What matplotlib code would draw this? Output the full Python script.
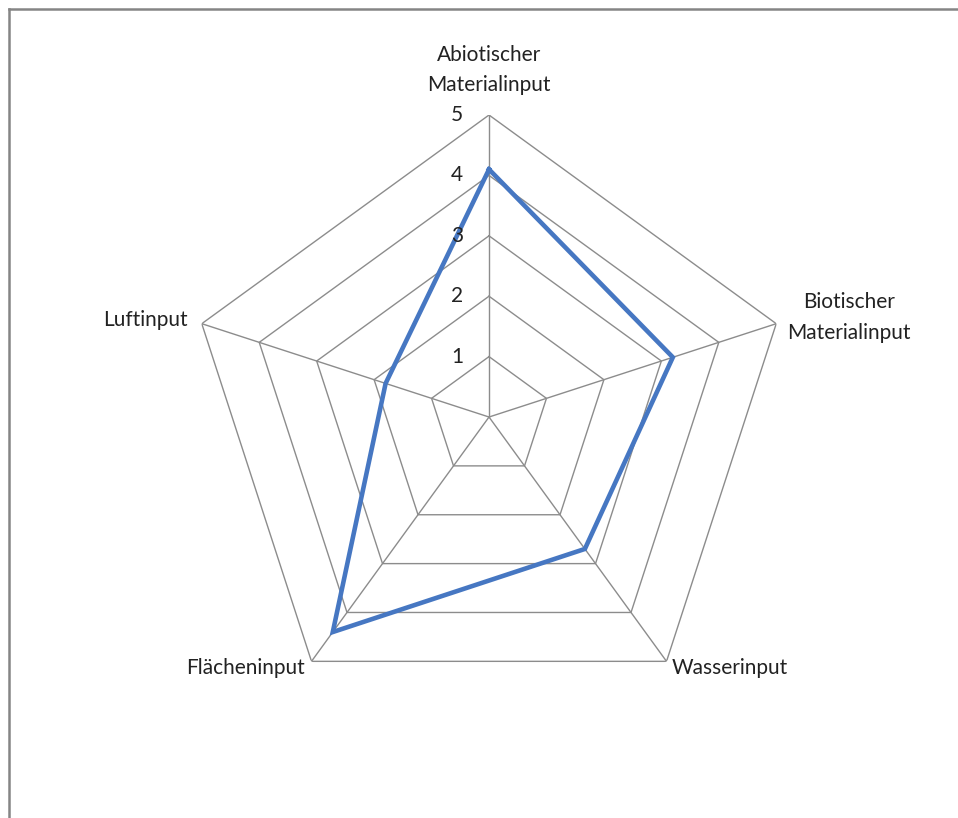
import numpy as np
import matplotlib
matplotlib.use("Agg")
from matplotlib import pyplot as plt
from matplotlib.lines import Line2D

plt.rcParams['font.family'] = ['Lato', 'DejaVu Sans']

# Kategorien und Werte des Netzdiagramms
categories = ['Abiotischer\nMaterialinput', 'Biotischer\nMaterialinput',
              'Wasserinput', 'Flächeninput', 'Luftinput']
values = [4.1, 3.2, 2.7, 4.4, 1.8]
levels = [1, 2, 3, 4, 5]

# Versatz der Beschriftungen (Pixel) und Ausrichtung je Achse
label_offsets = [(0, 20), (11, 6), (5, -7), (-7, -7), (-14, 4)]
label_align = [('center', 'bottom'), ('left', 'center'), ('left', 'center'),
               ('right', 'center'), ('right', 'center')]

grid_color = '#8c8c8c'
line_color = '#4677c2'

fig = plt.figure(figsize=(9.58, 8.18), dpi=100)
ax = fig.add_axes([0.1952, 0.1210, 0.6305, 0.7384], projection='polar')
ax.set_theta_offset(np.pi / 2)
ax.set_theta_direction(-1)
ax.set_ylim(0, 5)
ax.set_xticks([])
ax.set_yticks([])
ax.grid(False)
ax.spines['polar'].set_visible(False)
ax.patch.set_visible(False)

n = len(categories)
angles = np.linspace(0, 2 * np.pi, n, endpoint=False)
closed = np.append(angles, angles[0])

# Fuenfeckiges Gitter und Speichen
for lv in levels:
    ax.plot(closed, [lv] * (n + 1), color=grid_color, lw=1.0, zorder=1)
for a in angles:
    ax.plot([a, a], [0, levels[-1]], color=grid_color, lw=1.0, zorder=1)

# Datenreihe
ax.plot(closed, values + values[:1], color=line_color, lw=3.3, zorder=3,
        solid_joinstyle='miter')

# Achsenbeschriftung 1..5 an der oberen Achse
for lv in levels:
    ax.annotate(str(lv), xy=(0, lv), xytext=(-26, 0), textcoords='offset pixels',
                ha='right', va='center', fontsize=15, color='#222222')

# Kategorienamen
for a, name, off, (ha, va) in zip(angles, categories, label_offsets, label_align):
    ax.annotate(name, xy=(a, levels[-1]), xytext=off, textcoords='offset pixels',
                ha=ha, va=va, multialignment='center', fontsize=15,
                color='#222222', linespacing=1.65)

# Rahmen links und oben
fig.add_artist(Line2D([0.0095, 0.0095], [0, 0.989], transform=fig.transFigure,
                      color='#858585', lw=1.8))
fig.add_artist(Line2D([0.0095, 1.0], [0.989, 0.989], transform=fig.transFigure,
                      color='#858585', lw=1.8))

fig.savefig('out.png', dpi=100, facecolor='white')
